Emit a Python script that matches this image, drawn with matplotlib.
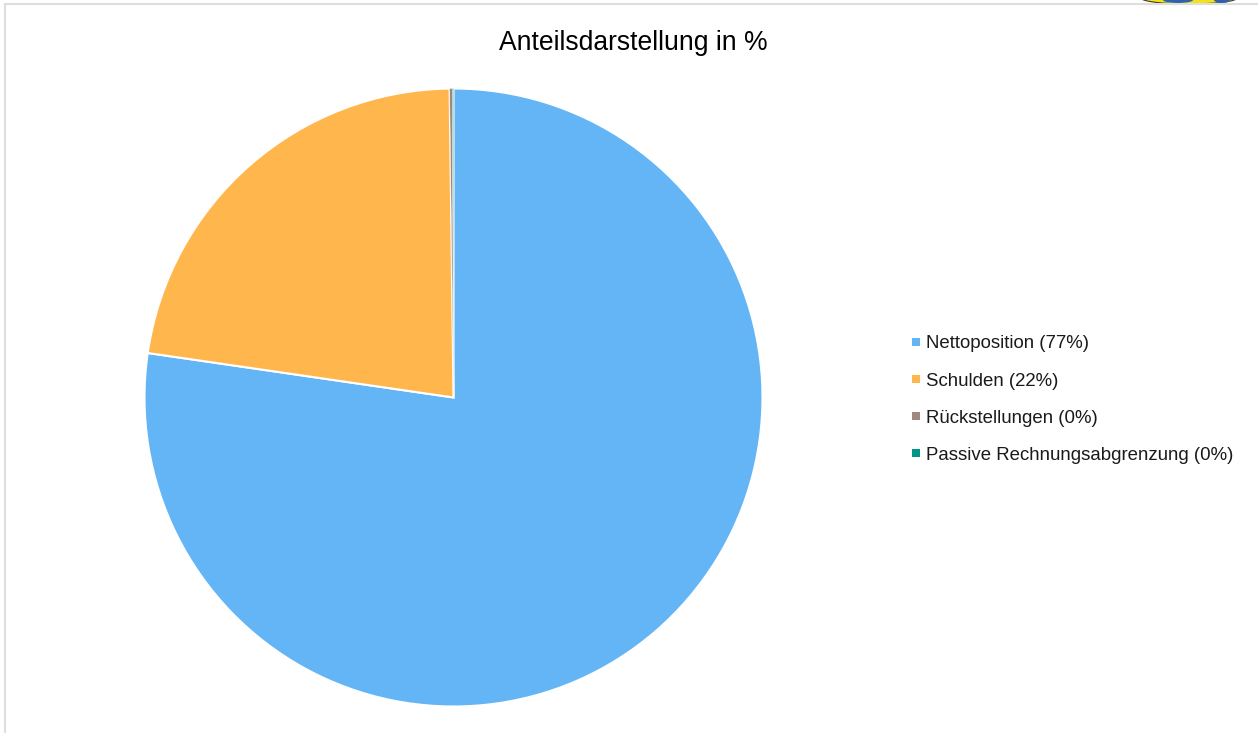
import matplotlib
matplotlib.use("Agg")
import matplotlib.pyplot as plt
from matplotlib.lines import Line2D
from matplotlib.patches import Ellipse

plt.rcParams["font.family"] = ["Liberation Sans", "DejaVu Sans"]

W, H = 1258, 733

title = "Anteilsdarstellung in %"
categories = ["Nettoposition", "Schulden", "Rückstellungen", "Passive Rechnungsabgrenzung"]
shares = [77.3, 22.5, 0.15, 0.05]
legend_pct = ["77%", "22%", "0%", "0%"]
colors = ["#64b5f6", "#ffb74d", "#a1887f", "#009688"]


def px_axes(fig, x0, y0, x1, y1):
    # pixel box with y measured from the top of the picture
    return fig.add_axes([x0 / W, 1 - y1 / H, (x1 - x0) / W, (y1 - y0) / H])


fig = plt.figure(figsize=(W / 100, H / 100), dpi=100, facecolor="white")

# page frame and the bit of the crest showing top right
bg = fig.add_axes([0, 0, 1, 1])
bg.set_xlim(0, W)
bg.set_ylim(H, 0)
bg.axis("off")
bg.plot([5, 5, W], [H, 4, 4], color="#dedede", lw=1.5, solid_joinstyle="miter")
bg.add_patch(Ellipse((1189, -2), 96, 12, facecolor="#f2e21b", edgecolor="#3a3a20", lw=0.8))
bg.add_patch(Ellipse((1178, 0), 30, 6, facecolor="#2f62a8", edgecolor="none"))
bg.add_patch(Ellipse((1222, 0), 16, 6, facecolor="#2f62a8", edgecolor="none"))

ax = px_axes(fig, 453.5 - 309, 397.5 - 309, 453.5 + 309, 397.5 + 309)
wedges, _ = ax.pie(
    shares,
    colors=colors,
    startangle=90,
    counterclock=False,
    radius=1,
    wedgeprops={"edgecolor": "white", "linewidth": 1.5},
)
# the two tiny slices would vanish under a full white edge
wedges[2].set_linewidth(0.3)
wedges[3].set_linewidth(0.3)
ax.set_xlim(-1, 1)
ax.set_ylim(-1, 1)

fig.text(633 / W, 1 - 42.5 / H, title, ha="center", va="center", fontsize=19.1, color="black")

handles = [
    Line2D([], [], linestyle="none", marker="s", markersize=5.2, color=c, markeredgewidth=0)
    for c in colors
]
labels = [f"{c} ({p})" for c, p in zip(categories, legend_pct)]
fig.legend(
    handles,
    labels,
    loc="center left",
    bbox_to_anchor=(909 / W, 1 - 399.5 / H),
    frameon=False,
    fontsize=13.45,
    labelcolor="#1a1a1a",
    handlelength=0.8,
    handletextpad=0.1,
    labelspacing=1.07,
    borderpad=0,
    borderaxespad=0,
)

fig.savefig("out.png", dpi=100)
